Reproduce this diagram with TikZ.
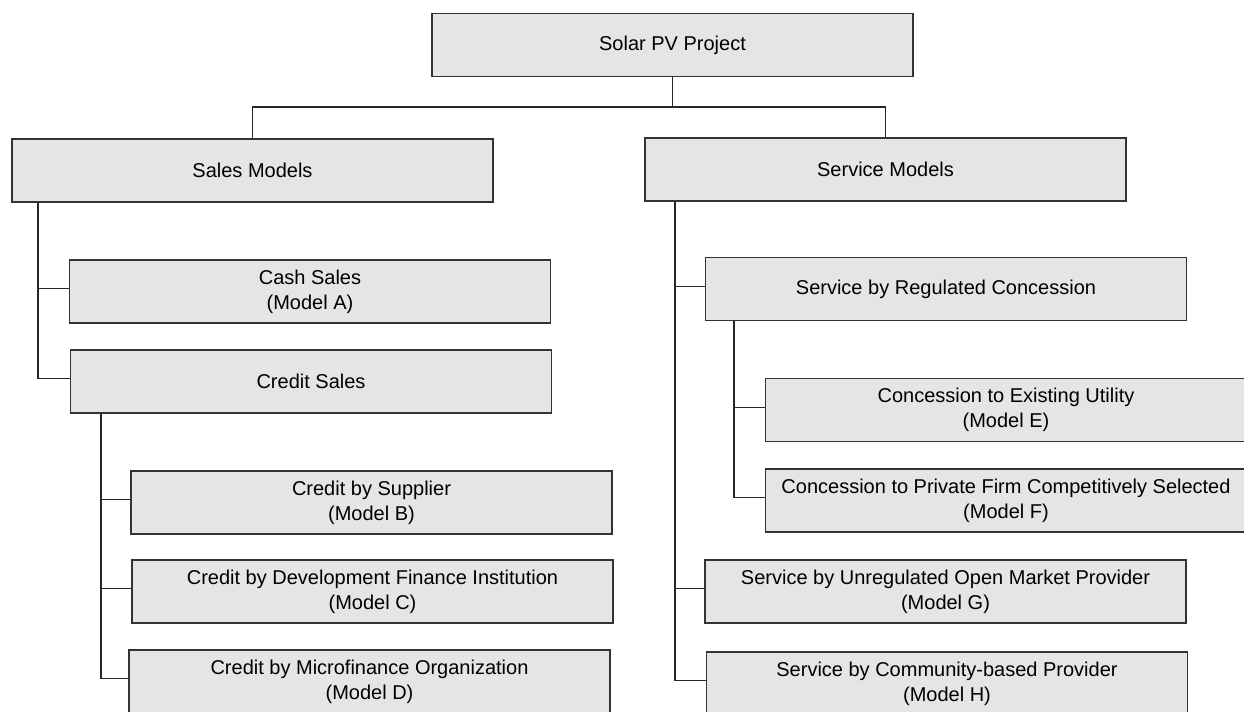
\documentclass[tikz,border=0pt]{standalone}
\usepackage{fontspec}
\setmainfont{Liberation Sans}
\begin{document}
\begin{tikzpicture}[x=0.75pt,y=-0.75pt,
  box/.style={draw=black!80, line width=1.1pt, fill=black!10, inner sep=0pt,
    minimum width=360.75pt, minimum height=47.25pt, align=center,
    font=\fontsize{15}{18.75}\selectfont},
  conn/.style={draw=black!85, line width=0.8pt}]
\clip (0,0) rectangle (1244,711);
\node[box] (solar) at (672.5,45) {Solar PV Project};
\node[box] (sales) at (252.5,170.5) {Sales Models};
\node[box] (service) at (885.5,169.5) {Service Models};
\node[box] (cash) at (310,291.5) {Cash Sales\\(Model A)};
\node[box] (credit) at (311,381.5) {Credit Sales};
\node[box] (supplier) at (371.5,502.5) {Credit by Supplier\\(Model B)};
\node[box] (dev) at (372.5,591.5) {Credit by Development Finance Institution\\(Model C)};
\node[box] (micro) at (369.5,681.5) {Credit by Microfinance Organization\\(Model D)};
\node[box] (regulated) at (946,289) {Service by Regulated Concession};
\node[box] (existing) at (1006,410) {Concession to Existing Utility\\(Model E)};
\node[box] (private) at (1006,500.5) {Concession to Private Firm Competitively Selected\\(Model F)};
\node[box] (unreg) at (945.5,591.5) {Service by Unregulated Open Market Provider\\(Model G)};
\node[box] (community) at (947,683.5) {Service by Community-based Provider\\(Model H)};
\coordinate (topbar) at (672.5,107);
\coordinate (sx) at (38,0);
\coordinate (cx) at (101,0);
\coordinate (vx) at (675,0);
\coordinate (rx) at (734,0);
\tikzset{br/.style={yshift=2pt}}
\draw[conn] (solar.south) -- (solar.south |- topbar);
\draw[conn] (sales.north) -- (sales.north |- topbar) -- (service.north |- topbar) -- (service.north);
\draw[conn] (sales.south -| sx) |- ([br]cash.west);
\draw[conn] (sales.south -| sx) |- ([br]credit.west);
\draw[conn] (credit.south -| cx) |- ([br]supplier.west);
\draw[conn] (credit.south -| cx) |- ([br]dev.west);
\draw[conn] (credit.south -| cx) |- ([br]micro.west);
\draw[conn] (service.south -| vx) |- ([br]regulated.west);
\draw[conn] (service.south -| vx) |- ([br]unreg.west);
\draw[conn] (service.south -| vx) |- ([br]community.west);
\draw[conn] (regulated.south -| rx) |- ([br]existing.west);
\draw[conn] (regulated.south -| rx) |- ([br]private.west);
\end{tikzpicture}
\end{document}
